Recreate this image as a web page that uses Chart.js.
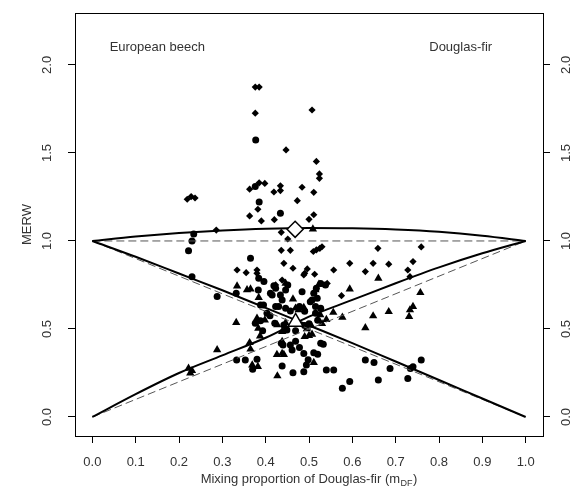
<!DOCTYPE html>
<html>
<head>
<meta charset="utf-8">
<script src="https://cdn.jsdelivr.net/npm/chart.js@4.4.1/dist/chart.umd.min.js"></script>
<style>
  html, body { margin: 0; padding: 0; background: #fff; }
</style>
</head>
<body>
<canvas id="merw-chart" width="572" height="488"></canvas>
<script>
// axis ticks
const xTicks = [0, 0.1, 0.2, 0.3, 0.4, 0.5, 0.6, 0.7, 0.8, 0.9, 1.0];
const yTicks = [0, 0.5, 1.0, 1.5, 2.0];

// fitted curves over the mixing proportion
const curveX   = [0, 0.1, 0.2, 0.3, 0.4, 0.5, 0.6, 0.7, 0.8, 0.9, 1.0];
const totalFit = [1.0, 1.025, 1.045, 1.06, 1.07, 1.074, 1.072, 1.065, 1.052, 1.03, 1.0];
const beechFit = [1.0, 0.91, 0.815, 0.72, 0.62, 0.52, 0.42, 0.315, 0.21, 0.105, 0.0];
const firFit   = [0.0, 0.13, 0.25, 0.35, 0.45, 0.57, 0.665, 0.76, 0.85, 0.93, 1.0];

// reference lines (no mixing effect)
const refX     = [0, 1];
const refTotal = [1, 1];
const refBeech = [1, 0];
const refFir   = [0, 1];

// stand observations [m_DF, MERW]
const totalObs = [
  [0.376, 1.874], [0.385, 1.874], [0.376, 1.726], [0.507, 1.744], [0.447, 1.517], [0.517, 1.452],
  [0.524, 1.381], [0.524, 1.356], [0.219, 1.237], [0.228, 1.252], [0.237, 1.244], [0.363, 1.294],
  [0.385, 1.33], [0.398, 1.327], [0.434, 1.313], [0.434, 1.286], [0.419, 1.278], [0.484, 1.305],
  [0.511, 1.276], [0.473, 1.229], [0.382, 1.18], [0.363, 1.142], [0.511, 1.149], [0.5, 1.123],
  [0.39, 1.114], [0.42, 1.121], [0.286, 1.062], [0.436, 1.049], [0.451, 1.011], [0.51, 0.94],
  [0.517, 0.949], [0.525, 0.958], [0.53, 0.967], [0.659, 0.958], [0.759, 0.966], [0.436, 0.947],
  [0.457, 0.947], [0.442, 0.873], [0.463, 0.845], [0.334, 0.835], [0.355, 0.82], [0.38, 0.835],
  [0.38, 0.816], [0.438, 0.778], [0.488, 0.807], [0.496, 0.841], [0.49, 0.816], [0.513, 0.811],
  [0.557, 0.835], [0.594, 0.873], [0.648, 0.873], [0.684, 0.868], [0.63, 0.826], [0.728, 0.835],
  [0.74, 0.883], [0.733, 0.797], [0.575, 0.689], [0.423, 0.75], [0.542, 0.759]
];
const beechObs = [
  [0.377, 1.574], [0.376, 1.31], [0.385, 1.222], [0.434, 1.157], [0.234, 1.04], [0.23, 1.0],
  [0.222, 0.945], [0.23, 0.797], [0.365, 0.902], [0.384, 0.788], [0.396, 0.769], [0.383, 0.722],
  [0.419, 0.746], [0.423, 0.731], [0.446, 0.722], [0.288, 0.684], [0.332, 0.703], [0.434, 0.693],
  [0.438, 0.665], [0.388, 0.636], [0.395, 0.636], [0.423, 0.627], [0.43, 0.627], [0.446, 0.618],
  [0.457, 0.602], [0.478, 0.627], [0.451, 0.75], [0.527, 0.759], [0.484, 0.712], [0.517, 0.731],
  [0.538, 0.75], [0.511, 0.703], [0.507, 0.665], [0.503, 0.655], [0.519, 0.674], [0.515, 0.627],
  [0.527, 0.618], [0.411, 0.703], [0.415, 0.693], [0.388, 0.547], [0.376, 0.532], [0.393, 0.49],
  [0.421, 0.532], [0.442, 0.523], [0.449, 0.494], [0.469, 0.49], [0.49, 0.52], [0.5, 0.53],
  [0.515, 0.59], [0.49, 0.6], [0.52, 0.55], [0.403, 0.59], [0.41, 0.575], [0.333, 0.324],
  [0.353, 0.324], [0.38, 0.328], [0.37, 0.271], [0.436, 0.419], [0.44, 0.409], [0.457, 0.409],
  [0.461, 0.381], [0.438, 0.29], [0.463, 0.252], [0.488, 0.257], [0.488, 0.361], [0.511, 0.365],
  [0.52, 0.356], [0.494, 0.295], [0.54, 0.267], [0.557, 0.267], [0.577, 0.163], [0.594, 0.201],
  [0.63, 0.324], [0.65, 0.309], [0.66, 0.21], [0.687, 0.276], [0.728, 0.219], [0.734, 0.276],
  [0.74, 0.286], [0.759, 0.324], [0.527, 0.419], [0.533, 0.413], [0.478, 0.395], [0.498, 0.325],
  [0.469, 0.43]
];
const firObs = [
  [0.509, 1.068], [0.446, 0.759], [0.334, 0.744], [0.357, 0.722], [0.365, 0.727], [0.384, 0.678],
  [0.463, 0.67], [0.523, 0.754], [0.66, 0.788], [0.594, 0.727], [0.757, 0.706], [0.515, 0.722],
  [0.488, 0.621], [0.469, 0.618], [0.476, 0.608], [0.556, 0.594], [0.74, 0.627], [0.733, 0.608],
  [0.684, 0.598], [0.577, 0.566], [0.648, 0.574], [0.63, 0.506], [0.731, 0.57], [0.332, 0.536],
  [0.38, 0.56], [0.398, 0.551], [0.383, 0.504], [0.438, 0.485], [0.427, 0.523], [0.446, 0.535],
  [0.54, 0.553], [0.526, 0.58], [0.505, 0.52], [0.495, 0.5], [0.53, 0.53], [0.49, 0.456],
  [0.5, 0.462], [0.507, 0.47], [0.387, 0.46], [0.438, 0.428], [0.288, 0.381], [0.363, 0.422],
  [0.365, 0.385], [0.438, 0.361], [0.426, 0.355], [0.442, 0.355], [0.511, 0.309], [0.369, 0.295],
  [0.382, 0.286], [0.427, 0.233], [0.222, 0.276], [0.23, 0.263], [0.226, 0.25]
];

// mean of the stands
const totalMean = [0.468, 1.066];
const firMean   = [0.469, 0.54];

const speciesLabels = ['European beech', 'Douglas-fir'];
const xTitle = ['Mixing proportion of Douglas-fir (m', 'DF', ')'];
const yTitle = 'MERW';

const FONT = "'Liberation Sans', Arial, sans-serif";
const TEXT_COLOR = '#333';

const toXY = (xs, ys) => xs.map((x, i) => ({ x, y: ys[i] }));
const pairs = (arr) => arr.map(([x, y]) => ({ x, y }));

function curve(xs, ys) {
  return {
    data: toXY(xs, ys),
    borderColor: '#000',
    borderWidth: 2,
    pointRadius: 0,
    cubicInterpolationMode: 'monotone',
    fill: false,
  };
}

function refLine(xs, ys) {
  return {
    data: toXY(xs, ys),
    borderColor: '#555',
    borderWidth: 1,
    borderDash: [8, 4],
    pointRadius: 0,
    fill: false,
  };
}

function points(arr, style, radius) {
  return {
    data: pairs(arr),
    showLine: false,
    pointStyle: style,
    pointRadius: radius,
    pointBackgroundColor: '#000',
    pointBorderColor: '#000',
    pointBorderWidth: 0,
  };
}

function meanMarker(pt, style, radius) {
  return {
    data: [{ x: pt[0], y: pt[1] }],
    showLine: false,
    pointStyle: style,
    pointRadius: radius,
    pointBackgroundColor: '#fff',
    pointBorderColor: '#000',
    pointBorderWidth: 1.5,
  };
}

// box, species names and the x-axis title with its subscript
const frameAndText = {
  id: 'frameAndText',
  afterDraw(chart) {
    const { ctx, chartArea: a, scales } = chart;
    ctx.save();
    ctx.strokeStyle = '#000';
    ctx.lineWidth = 1;
    ctx.strokeRect(a.left + 0.5, a.top + 0.5, a.right - a.left, a.bottom - a.top);

    ctx.fillStyle = TEXT_COLOR;
    ctx.font = `13px ${FONT}`;
    ctx.textAlign = 'center';
    ctx.textBaseline = 'middle';
    const labelY = scales.y.getPixelForValue(2.1);
    ctx.fillText(speciesLabels[0], scales.x.getPixelForValue(0.15), labelY);
    ctx.fillText(speciesLabels[1], scales.x.getPixelForValue(0.85), labelY);

    // x title: main text, small lowered subscript, closing bracket
    ctx.textAlign = 'left';
    ctx.textBaseline = 'alphabetic';
    const mainFont = `13px ${FONT}`;
    const subFont = `9px ${FONT}`;
    ctx.font = mainFont;
    const w1 = ctx.measureText(xTitle[0]).width;
    const w3 = ctx.measureText(xTitle[2]).width;
    ctx.font = subFont;
    const w2 = ctx.measureText(xTitle[1]).width;
    const total = w1 + w2 + w3 + 1;
    let tx = (a.left + a.right) / 2 - total / 2;
    const base = 483;
    ctx.font = mainFont;
    ctx.fillText(xTitle[0], tx, base);
    tx += w1 + 0.5;
    ctx.font = subFont;
    ctx.fillText(xTitle[1], tx, base + 3);
    tx += w2 + 0.5;
    ctx.font = mainFont;
    ctx.fillText(xTitle[2], tx, base);
    ctx.restore();
  },
};

function yAxis(position, width, padding, withTitle) {
  return {
    type: 'linear',
    position,
    min: -0.108,
    max: 2.295,
    afterBuildTicks: (axis) => { axis.ticks = yTicks.map((v) => ({ value: v })); },
    afterFit: (axis) => {
      axis.width = width;
      axis.paddingTop = 0;
      axis.paddingBottom = 0;
    },
    grid: { display: true, drawOnChartArea: false, drawTicks: true, tickLength: 7, color: '#000', lineWidth: 1 },
    border: { display: false },
    ticks: {
      minRotation: 90,
      maxRotation: 90,
      crossAlign: 'center',
      padding,
      color: TEXT_COLOR,
      font: { family: FONT, size: 13 },
      callback: (v) => v.toFixed(1),
    },
    title: {
      display: withTitle,
      text: yTitle,
      color: TEXT_COLOR,
      font: { family: FONT, size: 13 },
      padding: { top: 20, bottom: 0 },
    },
  };
}

new Chart(document.getElementById('merw-chart').getContext('2d'), {
  type: 'line',
  data: {
    datasets: [
      meanMarker(totalMean, 'rectRot', 8),
      meanMarker(firMean, 'triangle', 8.5),
      curve(curveX, totalFit),
      curve(curveX, beechFit),
      curve(curveX, firFit),
      refLine(refX, refTotal),
      refLine(refX, refBeech),
      refLine(refX, refFir),
      points(totalObs, 'rectRot', 3.6),
      points(beechObs, 'circle', 3.5),
      points(firObs, 'triangle', 4.8),
    ],
  },
  options: {
    responsive: false,
    devicePixelRatio: 1,
    animation: false,
    events: [],
    layout: { autoPadding: false, padding: { top: 13, left: 0, right: 0, bottom: 0 } },
    plugins: { legend: { display: false }, tooltip: { enabled: false } },
    scales: {
      x: {
        type: 'linear',
        position: 'bottom',
        min: -0.04,
        max: 1.04,
        afterBuildTicks: (axis) => { axis.ticks = xTicks.map((v) => ({ value: v })); },
        afterFit: (axis) => {
          axis.height = 52;
          axis.paddingLeft = 0;
          axis.paddingRight = 0;
        },
        grid: { display: true, drawOnChartArea: false, drawTicks: true, tickLength: 7, color: '#000', lineWidth: 1 },
        border: { display: false },
        ticks: {
          maxRotation: 0,
          padding: 12,
          color: TEXT_COLOR,
          font: { family: FONT, size: 13 },
          callback: (v) => v.toFixed(1),
        },
      },
      y: yAxis('left', 75, 12, true),
      y2: yAxis('right', 29, 7, false),
    },
  },
  plugins: [frameAndText],
});
</script>
</body>
</html>
